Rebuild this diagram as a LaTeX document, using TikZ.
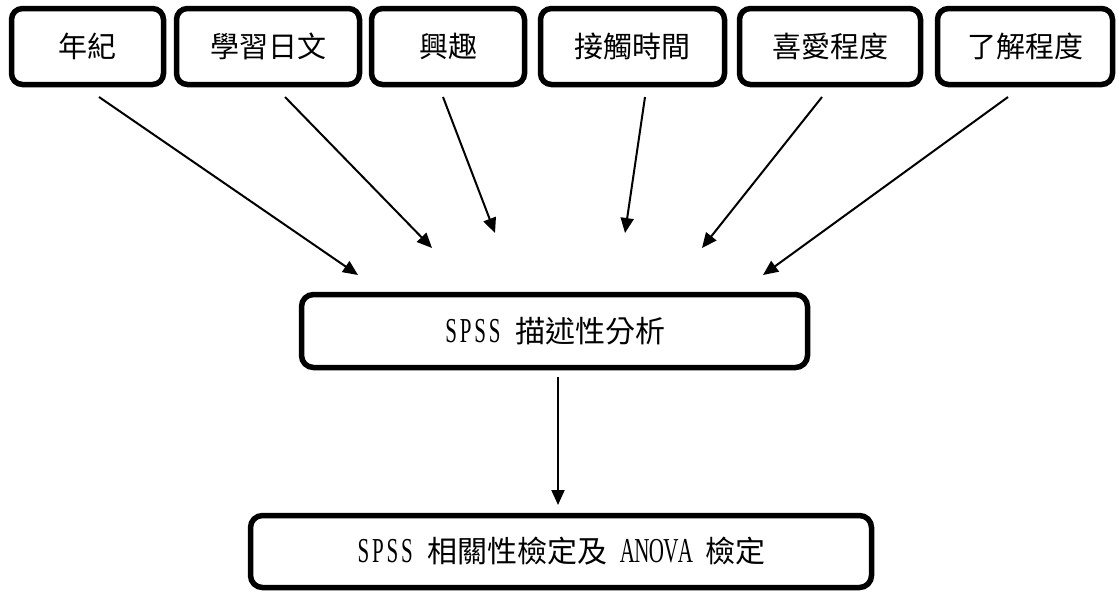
\documentclass[tikz,border=0pt]{standalone}
\usepackage{fontspec}
\setmainfont{Liberation Serif}
\newfontfamily\cjk{Noto Sans CJK TC}
\newfontfamily\lat{Liberation Serif}[FakeStretch=0.6]
\usetikzlibrary{arrows.meta}
\tikzset{
  topbox/.style={draw=black, line width=5.5pt, rounded corners=11pt, inner sep=0pt,
    minimum height=76pt, font=\cjk\fontsize{29}{34}\selectfont},
  bigbox/.style={draw=black, line width=5.5pt, rounded corners=12pt, inner sep=0pt,
    font=\fontsize{30}{36}\selectfont},
  arr/.style={line width=2pt, -{Triangle[length=15pt,width=13pt]}}
}
\newcommand{\gap}{\hspace{13pt}}
\newcommand{\hb}[1]{\makebox[14.5pt]{\lat\fontsize{35}{38}\selectfont #1}}
\begin{document}
\begin{tikzpicture}[x=1pt,y=-1pt]
\useasboundingbox (0,0) rectangle (1118,592);
\fill[white] (0,0) rectangle (1118,592);
% top boxes
\node[topbox, minimum width=152pt] (t1) at (87.5,46.5) {年紀};
\node[topbox, minimum width=183pt] (t2) at (268,46.5) {學習日文};
\node[topbox, minimum width=153pt] (t3) at (448,46.5) {興趣};
\node[topbox, minimum width=184pt] (t4) at (632.5,46.5) {接觸時間};
\node[topbox, minimum width=181pt] (t5) at (830,46.5) {喜愛程度};
\node[topbox, minimum width=175pt] (t6) at (1025,46.5) {了解程度};
% middle and bottom boxes
\node[bigbox, minimum width=506pt, minimum height=73pt] (mid) at (554.5,331)
  {\hb{S}\hb{P}\hb{S}\hb{S}\gap{\cjk 描述性分析}};
\node[bigbox, minimum width=621pt, minimum height=72pt] (bot) at (561,551.5)
  {\hb{S}\hb{P}\hb{S}\hb{S}\gap{\cjk 相關性檢定及}\gap\hb{A}\hb{N}\hb{O}\hb{V}\hb{A}\gap{\cjk 檢定}};
% arrow end points
\coordinate (s1) at (99,97);   \coordinate (e1) at (358,275);
\coordinate (s2) at (285,97);  \coordinate (e2) at (432,248);
\coordinate (s3) at (443,97);  \coordinate (e3) at (495,233);
\coordinate (s4) at (645,97);  \coordinate (e4) at (625,233);
\coordinate (s5) at (822,97);  \coordinate (e5) at (702,248);
\coordinate (s6) at (1008,97); \coordinate (e6) at (763,275);
\coordinate (sv) at (558,377); \coordinate (ev) at (558,505);
\draw[arr] (s1) -- (e1);
\draw[arr] (s2) -- (e2);
\draw[arr] (s3) -- (e3);
\draw[arr] (s4) -- (e4);
\draw[arr] (s5) -- (e5);
\draw[arr] (s6) -- (e6);
\draw[arr] (sv) -- (ev);
\end{tikzpicture}
\end{document}
